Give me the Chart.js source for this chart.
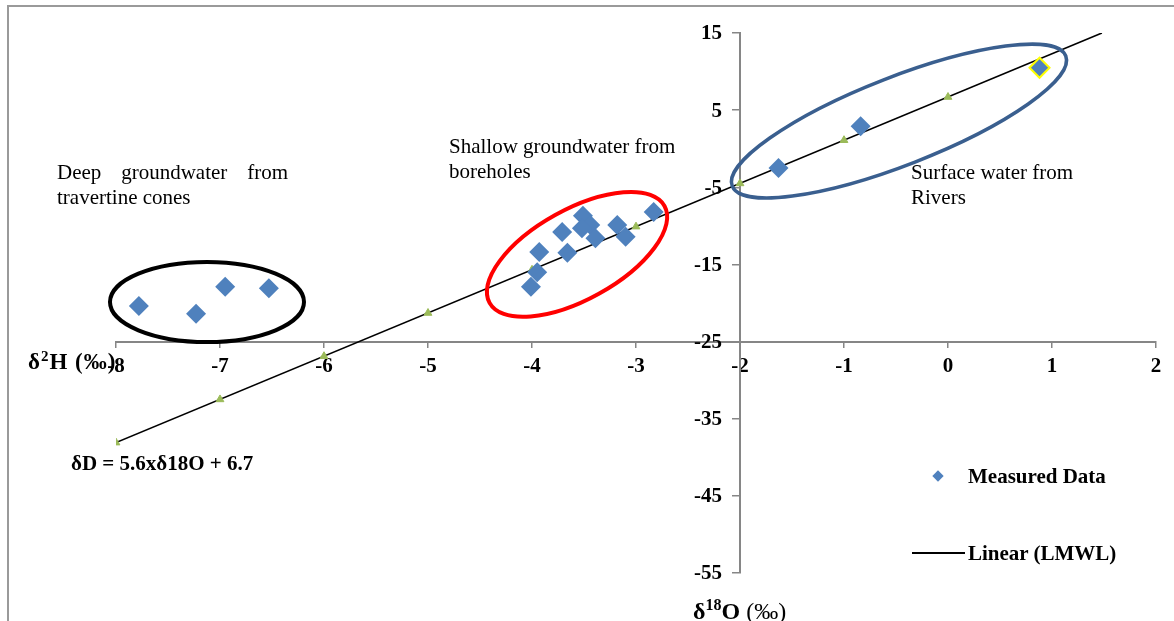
<!DOCTYPE html>
<html>
<head>
<meta charset="utf-8">
<script src="https://cdn.jsdelivr.net/npm/chart.js@4/dist/chart.umd.min.js"></script>
<style>
  html, body { margin: 0; padding: 0; background: #fff; }
  #wrap { position: relative; width: 1174px; height: 621px; overflow: hidden; }
  #c { position: absolute; left: 0; top: 0; }
  .frameL { position: absolute; left: 7px; top: 6px; width: 2px; height: 615px; background: #9a9a9a; }
  .frameT { position: absolute; left: 7px; top: 5px; width: 1167px; height: 2px; background: #9a9a9a; }
  .txt { position: absolute; font-family: "Liberation Serif", "Times New Roman", serif; color: #000; white-space: nowrap; }
  .note { font-size: 21px; line-height: 25px; }
  .just { white-space: normal; text-align: justify; }
  .bold { font-weight: bold; }
  .leg { font-size: 21px; font-weight: bold; line-height: 24px; }
  .dia { position: absolute; width: 8px; height: 8px; background: #4F81BD; transform: rotate(45deg); }
  .lline { position: absolute; height: 2px; background: #000; }
</style>
</head>
<body>
<div id="wrap">
  <canvas id="c" width="1174" height="621"></canvas>
  <div class="frameL"></div>
  <div class="frameT"></div>

  <div class="txt note just" style="left:57px; top:160px; width:231px;">Deep groundwater from travertine cones</div>
  <div class="txt note" style="left:449px; top:134px;">Shallow groundwater from<br>boreholes</div>
  <div class="txt note" style="left:911px; top:160px;">Surface water from<br>Rivers</div>
  <div class="txt bold" style="left:71px; top:450px; font-size:21px; line-height:26px;">δD = 5.6xδ18O + 6.7</div>

  <div class="txt bold" style="left:28px; top:341px; font-size:23px; line-height:30px; letter-spacing:1px;">δ<sup style="font-size:15px; vertical-align: 8px;">2</sup>H (‰)</div>
  <div class="txt" style="left:693px; top:590px; font-size:24px; line-height:30px;"><b>δ<sup style="font-size:16px; vertical-align: 9px;">18</sup>O</b> (‰)</div>

  <div class="dia" style="left:934px; top:472px;"></div>
  <div class="txt leg" style="left:968px; top:464px;">Measured Data</div>
  <div class="lline" style="left:912px; top:552px; width:53px;"></div>
  <div class="txt leg" style="left:968px; top:541px;">Linear (LMWL)</div>
</div>
<script>
// ---- data ----
const xTicks = [-8, -7, -6, -5, -4, -3, -2, -1, 0, 1, 2];
const yTicks = [-55, -45, -35, -25, -15, -5, 5, 15];

const deepX = [-7.78, -7.23, -6.95, -6.53];
const deepY = [-20.4, -21.4, -17.9, -18.1];

const shallowX = [-2.83, -3.51, -3.44, -3.52, -3.71, -3.39, -3.18, -3.10, -3.93, -3.66, -3.95, -4.01];
const shallowY = [-8.2, -8.7, -9.9, -10.3, -10.8, -11.6, -9.9, -11.4, -13.4, -13.5, -16.0, -17.9];

const surfaceX = [-1.63, -0.84, 0.88];
const surfaceY = [-2.5, 2.9, 10.5];

const lmwlX = [-8, -7, -6, -5, -4, -3, -2, -1, 0];
const lmwlY = [-38.1, -32.5, -26.9, -21.3, -15.7, -10.1, -4.5, 1.1, 6.7];

const trendX = [-8, 1.48];
const trendY = [-38.1, 15];

// ellipse annotations: centre in data units
const ellipseCX = [-7.125, -3.567, -0.471];
const ellipseCY = [-19.87, -13.7, 3.59];

const toPts = (xs, ys) => xs.map((x, i) => ({ x: x, y: ys[i] }));

const ellipseStyle = [
  { rx: 97, ry: 40, rot: 0, color: '#000000', w: 4 },
  { rx: 100, ry: 45, rot: -29, color: '#ff0000', w: 4 },
  { rx: 179, ry: 44, rot: -21.3, color: '#3a5f8f', w: 3.5 }
];

const FONT = '"Liberation Serif", "Times New Roman", serif';

const ellipsePlugin = {
  id: 'ellipses',
  afterDatasetsDraw(chart) {
    const ctx = chart.ctx;
    const xs = chart.scales.x, ys = chart.scales.y;
    ctx.save();
    ellipseCX.forEach((cx, i) => {
      const s = ellipseStyle[i];
      const px = xs.getPixelForValue(cx);
      const py = ys.getPixelForValue(ellipseCY[i]);
      ctx.beginPath();
      ctx.ellipse(px, py, s.rx, s.ry, s.rot * Math.PI / 180, 0, Math.PI * 2);
      ctx.strokeStyle = s.color;
      ctx.lineWidth = s.w;
      ctx.stroke();
    });
    ctx.restore();
  }
};

// y tick labels drawn left of the crossing axis (Chart.js puts them on the axis line)
const yLabelPlugin = {
  id: 'yLabels',
  afterDraw(chart) {
    const ctx = chart.ctx;
    const ys = chart.scales.y;
    const axisX = chart.scales.x.getPixelForValue(-2);
    ctx.save();
    ctx.font = 'bold 21px ' + FONT;
    ctx.fillStyle = '#000';
    ctx.textAlign = 'right';
    ctx.textBaseline = 'middle';
    ys.ticks.forEach(t => {
      ctx.fillText(String(t.value), axisX - 18, ys.getPixelForValue(t.value) + 1);
    });
    ctx.restore();
  }
};

const DIA = '#4F81BD';
Chart.defaults.font.family = FONT;
Chart.defaults.color = '#000';

new Chart(document.getElementById('c'), {
  type: 'scatter',
  data: {
    datasets: [
      {
        label: 'LMWL',
        data: toPts(lmwlX, lmwlY),
        showLine: false,
        pointStyle: 'triangle',
        pointRadius: 4.5,
        backgroundColor: '#9BBB59',
        borderColor: '#9BBB59',
        borderWidth: 1,
        order: 2
      },
      {
        label: 'Linear (LMWL)',
        data: toPts(trendX, trendY),
        showLine: true,
        borderColor: '#000',
        borderWidth: 1.6,
        pointRadius: 0,
        order: 3
      },
      {
        label: 'Measured Data',
        data: toPts(deepX, deepY).concat(toPts(shallowX, shallowY)),
        pointStyle: 'rectRot',
        pointRadius: 10,
        backgroundColor: DIA,
        borderColor: DIA,
        borderWidth: 0,
        order: 1
      },
      {
        label: 'Measured Data (surface)',
        data: toPts(surfaceX, surfaceY),
        pointStyle: 'rectRot',
        pointRadius: 10,
        backgroundColor: DIA,
        borderColor: [DIA, DIA, '#ffff00'],
        borderWidth: [0, 0, 2],
        order: 1
      }
    ]
  },
  options: {
    responsive: false,
    animation: false,
    layout: { padding: { left: 116, right: 18, top: 33, bottom: 48 } },
    plugins: { legend: { display: false }, tooltip: { enabled: false } },
    scales: {
      x: {
        type: 'linear',
        position: { y: -25 },
        min: -8, max: 2,
        afterBuildTicks: (s) => { s.ticks = xTicks.map(v => ({ value: v })); },
        ticks: { font: { size: 21, weight: 'bold' }, padding: 7, maxRotation: 0 },
        grid: { display: true, drawOnChartArea: false, drawTicks: true, tickLength: 5, color: '#868686', lineWidth: 1.5 },
        border: { display: true, color: '#868686', width: 2 }
      },
      y: {
        type: 'linear',
        position: { x: -2 },
        min: -55, max: 15,
        afterBuildTicks: (s) => { s.ticks = yTicks.map(v => ({ value: v })); },
        ticks: { display: false },
        grid: { display: true, drawOnChartArea: false, drawTicks: true, tickLength: 7, color: '#868686', lineWidth: 1.5 },
        border: { display: true, color: '#868686', width: 2 }
      }
    }
  },
  plugins: [ellipsePlugin, yLabelPlugin]
});
</script>
</body>
</html>
